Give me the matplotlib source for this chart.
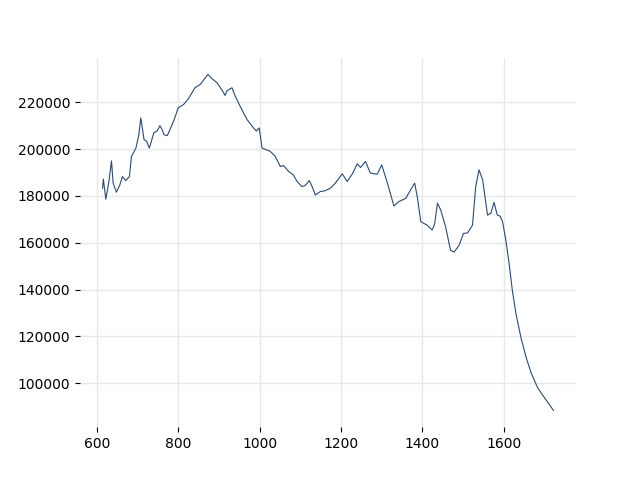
import numpy as np
import matplotlib
matplotlib.use("Agg")
import matplotlib.pyplot as plt

# x values and signal y values
x = [614, 616, 622, 630, 636, 640, 648, 656, 663, 671, 680, 685, 696, 703, 708,
     716, 722, 729, 740, 748, 755, 760, 765, 773, 780, 790, 800, 813, 825, 841,
     854, 862, 873, 884, 895, 909, 915, 920, 932, 940, 952, 969, 985, 992, 999,
     1006, 1026, 1038, 1051, 1059, 1071, 1083, 1092, 1104, 1112, 1122, 1129, 1137,
     1149, 1160, 1174, 1186, 1203, 1215, 1228, 1240, 1248, 1260, 1272, 1289, 1300,
     1314, 1330, 1342, 1359, 1371, 1381, 1388, 1396, 1412, 1424, 1430, 1437, 1445,
     1457, 1469, 1478, 1490, 1501, 1511, 1523, 1531, 1539, 1548, 1560, 1568, 1576,
     1584, 1591, 1597, 1605, 1613, 1621, 1630, 1642, 1655, 1667, 1683, 1700, 1712,
     1722]
y = [183300, 187200, 178600, 186600, 195000, 185500, 181600, 184500, 188300, 186600,
     188300, 196900, 200500, 206000, 213400, 204100, 203500, 200500, 207000, 207800,
     210100, 208500, 206200, 205800, 208500, 212700, 217700, 219100, 221600, 226300,
     227700, 229500, 232000, 230000, 228500, 224900, 223000, 225000, 226300, 222700,
     218400, 212700, 209100, 207800, 209100, 200500, 199100, 197000, 192600, 193000,
     190500, 189000, 186200, 184000, 184500, 186600, 184000, 180400, 181900, 182200,
     183300, 185500, 189500, 186200, 189500, 193800, 192200, 194800, 189800, 189300,
     193300, 185500, 175700, 177600, 179000, 182600, 185500, 179000, 169000, 167500,
     165400, 168000, 176900, 174000, 166800, 156800, 156000, 158900, 164000, 164200,
     167500, 184000, 191200, 186900, 171800, 172600, 177300, 171800, 171400, 169000,
     161100, 151100, 139600, 129500, 119500, 110900, 104400, 98000, 93700, 90800,
     88300]

fig, ax = plt.subplots(figsize=(6.4, 4.8), dpi=100)
ax.plot(x, y, color="#2b4b70", linewidth=0.8)

ax.grid(True, color="#e8e8e8", linewidth=1)
ax.set_axisbelow(True)
for s in ax.spines.values():
    s.set_visible(False)

plt.savefig("out.png")
